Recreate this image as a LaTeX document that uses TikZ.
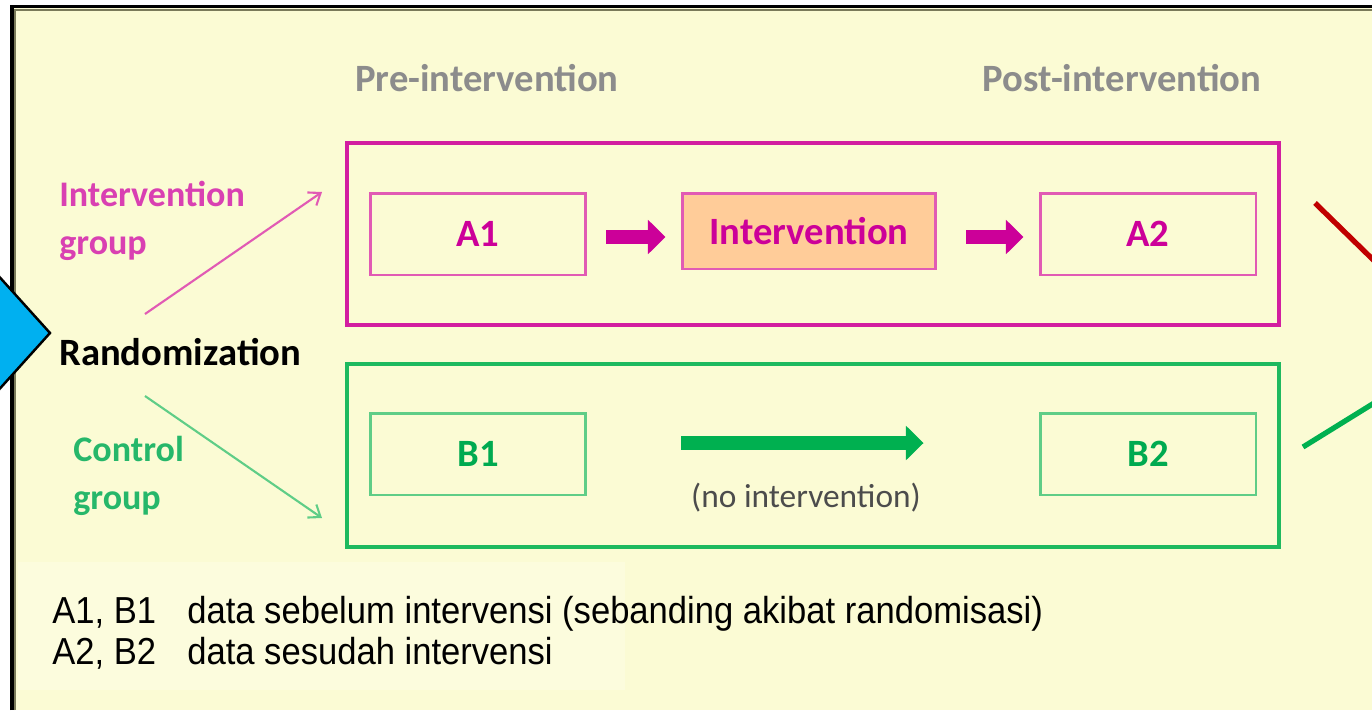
\documentclass[tikz,border=0pt]{standalone}
\usepackage{fontspec}
\setmainfont{Carlito}
\newfontfamily\notefont{Liberation Sans}[FakeStretch=0.92]
\usetikzlibrary{arrows.meta}

\definecolor{bgyellow}{RGB}{251,251,212}
\definecolor{frameolive}{RGB}{122,122,90}
\definecolor{grpmag}{RGB}{210,30,160}
\definecolor{boxmag}{RGB}{225,90,180}
\definecolor{txtmag}{RGB}{204,0,153}
\definecolor{peach}{RGB}{255,204,153}
\definecolor{grpgreen}{RGB}{30,185,95}
\definecolor{boxgreen}{RGB}{95,205,135}
\definecolor{txtgreen}{RGB}{0,170,80}
\definecolor{arrgreen}{RGB}{0,176,80}
\definecolor{headgray}{RGB}{140,140,140}
\definecolor{skyblue}{RGB}{0,176,240}
\definecolor{darkred}{RGB}{192,0,0}

\newcommand{\lblfont}{\fontsize{22}{27}\selectfont\bfseries}
\newcommand{\grpfont}{\fontsize{20.5}{27}\selectfont\bfseries}

\tikzset{
  databox/.style={draw, line width=1.7pt, inner sep=0pt, minimum width=4.32cm,
    minimum height=1.64cm, font=\lblfont},
  abox/.style={databox, draw=boxmag, text=txtmag},
  bbox/.style={databox, draw=boxgreen, text=txtgreen},
  groupframe/.style={line width=2.3pt},
  blockarrow/.style={line width=8.5pt, -{Triangle[length=10pt,width=19pt]}},
  thinarrow/.style={line width=1.2pt, -{Straight Barb[length=6pt,width=9pt]}}
}

\begin{document}
\begin{tikzpicture}[x=0.02cm, y=-0.02cm]
  \useasboundingbox (0,0) rectangle (1372,710);
  \clip (0,0) rectangle (1372,710);

  % Page background and frame
  \fill[white] (0,0) rectangle (1372,710);
  \fill[bgyellow] (12,8) rectangle (1372,710);
  \fill[bgyellow!80!white] (18,562) rectangle (625,690);
  \draw[frameolive, line width=1.2pt] (15,710) -- (15,10) -- (1372,10);
  \draw[black, line width=2.2pt] (12,710) -- (12,6.5) -- (1372,6.5);

  % Blue marker on the left edge
  \filldraw[fill=skyblue, draw=black, line width=1.4pt]
    (50,333) -- (-5,272) -- (-60,333) -- (-5,394) -- cycle;

  % Stray strokes on the right edge
  \draw[darkred, line width=3pt] (1315,203) -- (1400,286);
  \draw[arrgreen, line width=3pt] (1303,447) -- (1400,387);

  % Column headings
  \node[text=headgray, font=\lblfont] (pre) at (487,78) {Pre-intervention};
  \node[text=headgray, font=\lblfont] (post) at (1122,78) {Post-intervention};

  % Group frames
  \draw[grpmag, groupframe] (347,143) rectangle (1279,325);
  \draw[grpgreen, groupframe] (347,364) rectangle (1279,547);

  % Intervention group row
  \node[abox] (a1) at (478,234) {A1};
  \node[draw=boxmag, fill=peach, line width=1.7pt, inner sep=0pt, minimum width=5.08cm,
    minimum height=1.52cm, text=txtmag, font=\lblfont] (int) at (809,231) {Intervention};
  \node[abox] (a2) at (1148,234) {A2};
  \coordinate (arow) at (0,237);
  \draw[blockarrow, txtmag, shorten <=0.38cm, shorten >=0.3cm] (a1.east |- arow) -- (int.west |- arow);
  \draw[blockarrow, txtmag, shorten <=0.58cm, shorten >=0.3cm] (int.east |- arow) -- (a2.west |- arow);

  % Control group row
  \node[bbox] (b1) at (478,454) {B1};
  \node[bbox] (b2) at (1148,454) {B2};
  \coordinate (brow) at (0,443);
  \draw[blockarrow, arrgreen, shorten <=1.88cm, shorten >=2.3cm] (b1.east |- brow) -- (b2.west |- brow);
  \node[text=black!70, font=\fontsize{19}{23}\selectfont] (noint) at (806,498) {(no intervention)};

  % Randomization and the two groups
  \node[anchor=west, inner sep=0pt, font=\lblfont] (rand) at (59,352) {Randomization};
  \node[anchor=west, align=left, inner sep=0pt, text=txtmag!75!white, font=\grpfont] (igrp) at (59,221) {Intervention\\group};
  \node[anchor=west, align=left, inner sep=0pt, text=txtgreen!85!white, font=\grpfont] (cgrp) at (73,476) {Control\\group};
  \coordinate (rtop) at (145,314);
  \coordinate (rbot) at (145,396);
  \coordinate (itip) at (322,192);
  \coordinate (ctip) at (322,518);
  \draw[thinarrow, boxmag] (rtop) -- (itip);
  \draw[thinarrow, boxgreen] (rbot) -- (ctip);

  % Notes
  \node[anchor=base west, inner sep=0pt, font=\notefont\fontsize{21.4}{25}\selectfont] (n1) at (52,623) {A1, B1};
  \node[anchor=base west, inner sep=0pt, font=\notefont\fontsize{21.4}{25}\selectfont] (d1) at (187,623) {data sebelum intervensi (sebanding akibat randomisasi)};
  \node[anchor=base west, inner sep=0pt, font=\notefont\fontsize{21.4}{25}\selectfont] (n2) at (52,664) {A2, B2};
  \node[anchor=base west, inner sep=0pt, font=\notefont\fontsize{21.4}{25}\selectfont] (d2) at (187,664) {data sesudah intervensi};
\end{tikzpicture}
\end{document}
